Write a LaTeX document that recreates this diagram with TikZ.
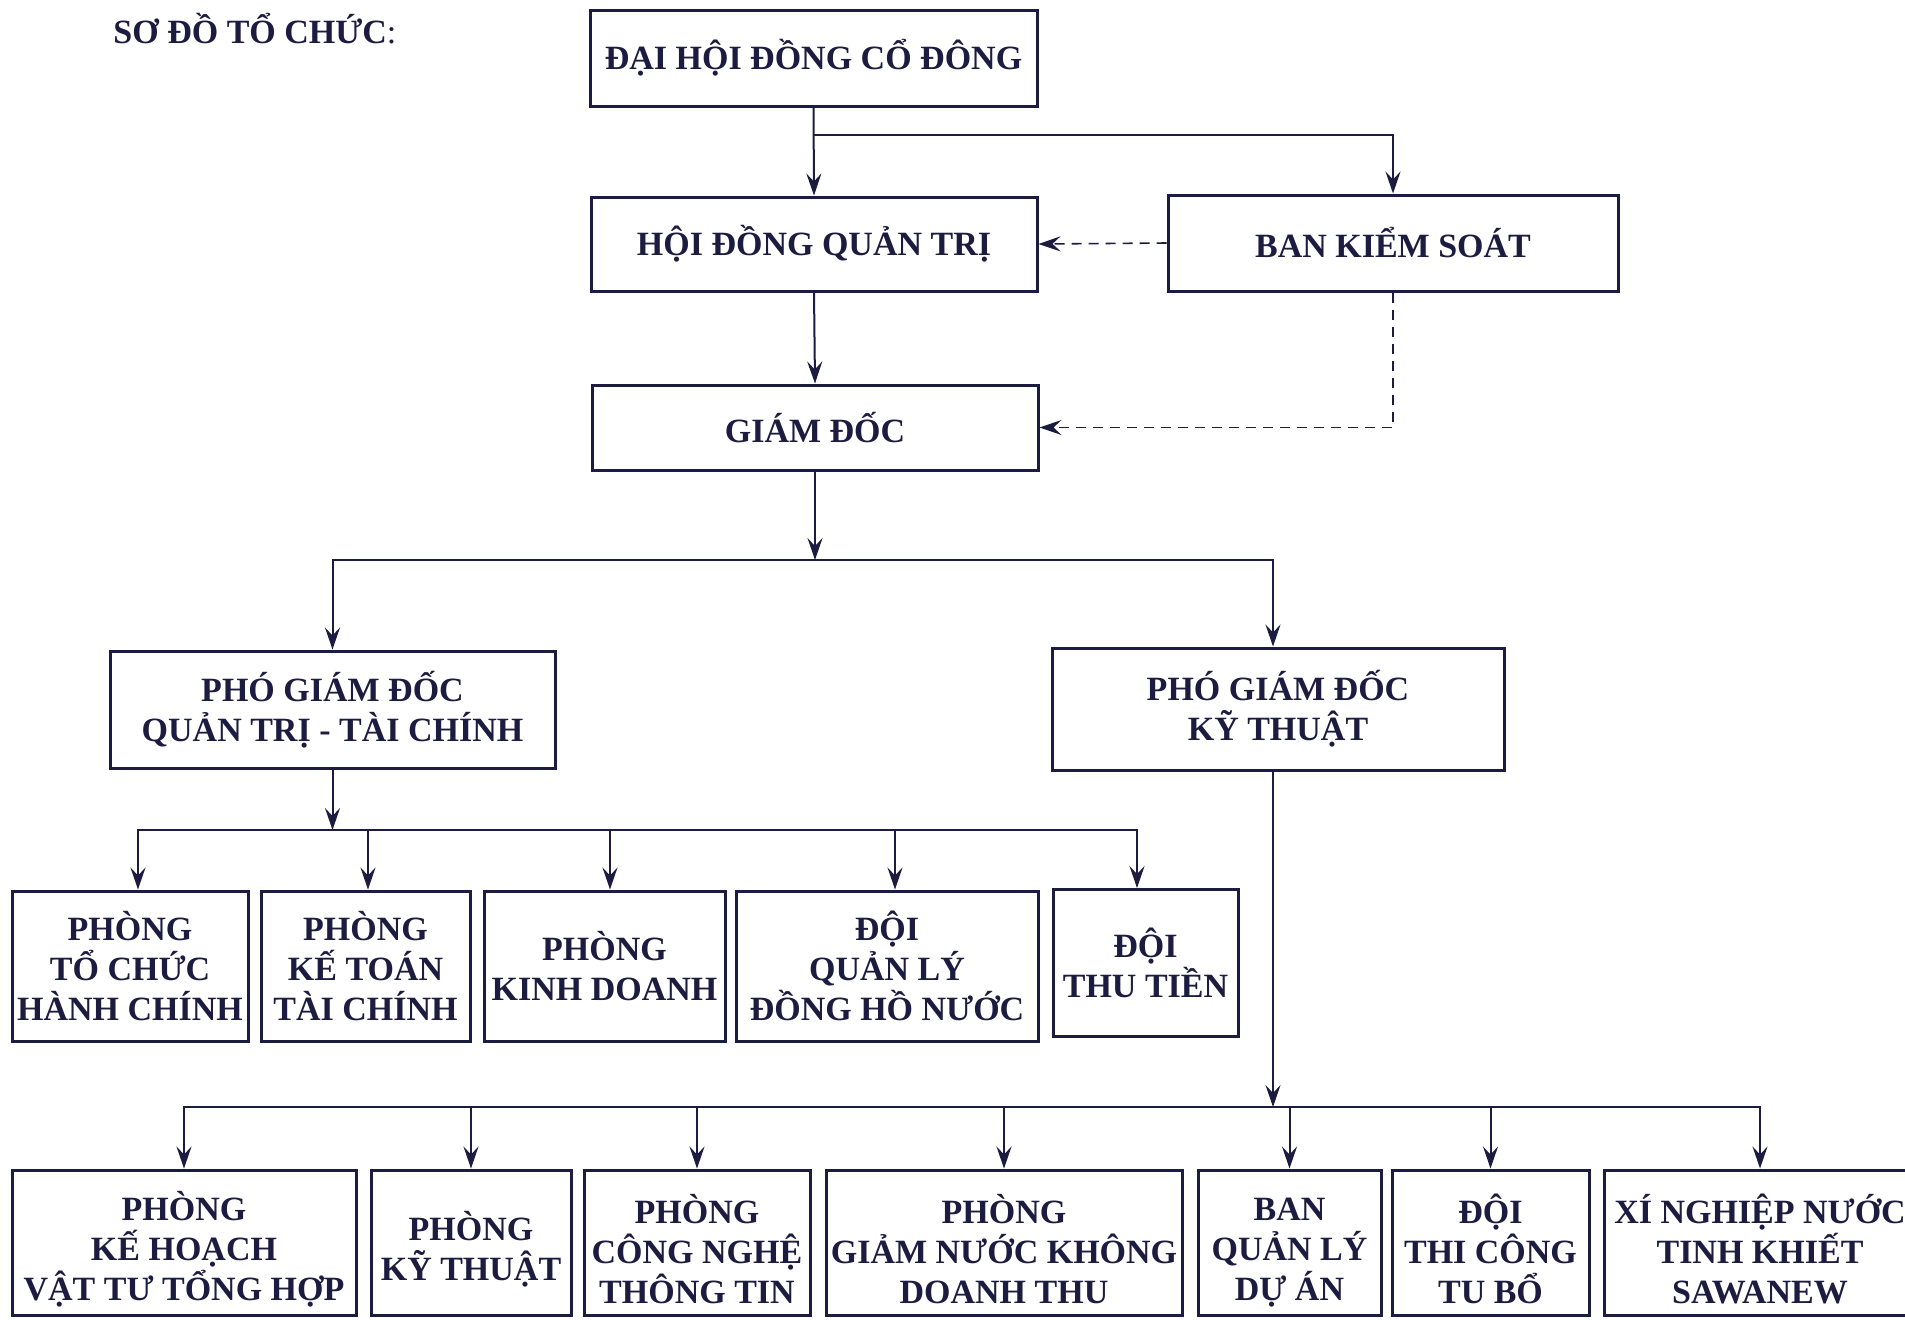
\documentclass[tikz,border=0pt]{standalone}
\usepackage{fontspec}
\setmainfont{Liberation Serif}
\usetikzlibrary{arrows.meta}
\definecolor{navy}{RGB}{28,28,64}
\newcommand\lowstrut{\rule{0pt}{21.5pt}}
\begin{document}
\begin{tikzpicture}[x=0.5pt,y=-0.5pt,
  box/.style={draw=navy,line width=1.5pt,align=center,inner sep=0pt,text=navy,
    font=\bfseries\fontsize{17}{20}\selectfont},
  conn/.style={draw=navy,line width=1pt},
  arr/.style={conn,-{Stealth[length=11pt,width=7.5pt,inset=4pt]}},
  darr/.style={arr,line width=0.8pt,dash pattern=on 5pt off 3.5pt}]
\useasboundingbox (0,0) rectangle (1905,1319);
\clip (0,0) rectangle (1905,1319);
\fill[white] (0,0) rectangle (1905,1319);

\node[anchor=base west,inner sep=0pt,text=navy,font=\bfseries\fontsize{17}{20}\selectfont] (title) at (113,43) {SƠ ĐỒ TỔ CHỨC{\mdseries :}};

\node[box,minimum width=223.5pt,minimum height=48pt] (dhcd) at (813.5,58) {ĐẠI HỘI ĐỒNG CỔ ĐÔNG};
\node[box,minimum width=223pt,minimum height=47pt] (hdqt) at (814,244) {HỘI ĐỒNG QUẢN TRỊ};
\node[box,minimum width=225pt,minimum height=48pt] (bks) at (1393,243) {BAN KIỂM SOÁT};
\node[box,minimum width=223pt,minimum height=42.5pt] (gd) at (815,427.5) {GIÁM ĐỐC};
\node[box,minimum width=222.5pt,minimum height=58.5pt] (pgd1) at (332.5,709.5) {PHÓ GIÁM ĐỐC\\QUẢN TRỊ - TÀI CHÍNH};
\node[box,minimum width=226pt,minimum height=61pt] (pgd2) at (1278,709) {PHÓ GIÁM ĐỐC\\KỸ THUẬT};

% row 3
\node[box,minimum width=118pt,minimum height=75pt] (r1) at (130,966) {PHÒNG\\TỔ CHỨC\\HÀNH CHÍNH};
\node[box,minimum width=104.5pt,minimum height=75pt] (r2) at (365.5,966) {PHÒNG\\KẾ TOÁN\\TÀI CHÍNH};
\node[box,minimum width=120.5pt,minimum height=75pt] (r3) at (604.5,966) {PHÒNG\\KINH DOANH};
\node[box,minimum width=151pt,minimum height=75pt] (r4) at (887,966) {ĐỘI\\QUẢN LÝ\\ĐỒNG HỒ NƯỚC};
\node[box,minimum width=92.5pt,minimum height=73.5pt] (r5) at (1145.5,963) {ĐỘI\\THU TIỀN};

% row 4
\node[box,minimum width=172pt,minimum height=72.5pt] (s1) at (184,1242.5) {\lowstrut PHÒNG\\KẾ HOẠCH\\VẬT TƯ TỔNG HỢP};
\node[box,minimum width=100pt,minimum height=72.5pt] (s2) at (471,1242.5) {\lowstrut PHÒNG\\KỸ THUẬT};
\node[box,minimum width=113pt,minimum height=72.5pt] (s3) at (697,1242.5) {\lowstrut PHÒNG\\CÔNG NGHỆ\\THÔNG TIN};
\node[box,minimum width=178pt,minimum height=72.5pt] (s4) at (1004,1242.5) {\lowstrut PHÒNG\\GIẢM NƯỚC KHÔNG\\DOANH THU};
\node[box,minimum width=91.5pt,minimum height=72.5pt] (s5) at (1289.5,1242.5) {\lowstrut BAN\\QUẢN LÝ\\DỰ ÁN};
\node[box,minimum width=98.5pt,minimum height=72.5pt] (s6) at (1490.5,1242.5) {\lowstrut ĐỘI\\THI CÔNG\\TU BỔ};
\node[box,minimum width=156pt,minimum height=72.5pt] (s7) at (1760,1242.5) {\lowstrut XÍ NGHIỆP NƯỚC\\TINH KHIẾT\\SAWANEW};

% connectors
\coordinate (b1) at (813.5,135);
\draw[arr] (dhcd.south) -- (hdqt.north);
\draw[arr] (b1) -| (bks.north);
\draw[arr] (hdqt.south) -- (gd.north);
\draw[darr] (bks.west) -- (hdqt.east);
\draw[darr] (bks.south) |- (gd.east);

\coordinate (b2) at (815,560);
\draw[arr] (gd.south) -- (b2);
\draw[arr] (b2) -| (pgd1.north);
\draw[arr] (b2) -| ([xshift=-2.5pt]pgd2.north);

\coordinate (b3) at (332.5,830);
\draw[arr] (pgd1.south) -- (b3);
\draw[arr] (b3) -| ([xshift=4pt]r1.north);
\draw[arr] (b3) -| ([xshift=1.25pt]r2.north);
\draw[arr] (b3) -| ([xshift=2.75pt]r3.north);
\draw[arr] (b3) -| ([xshift=4pt]r4.north);
\draw[arr] (b3) -| ([xshift=-4.25pt]r5.north);

\coordinate (b4) at (1273,1107);
\draw[arr] ([xshift=-2.5pt]pgd2.south) -- (b4);
\foreach \n in {s1,s2,s3,s4,s5,s6,s7} \draw[arr] (b4) -| (\n.north);
\end{tikzpicture}
\end{document}
